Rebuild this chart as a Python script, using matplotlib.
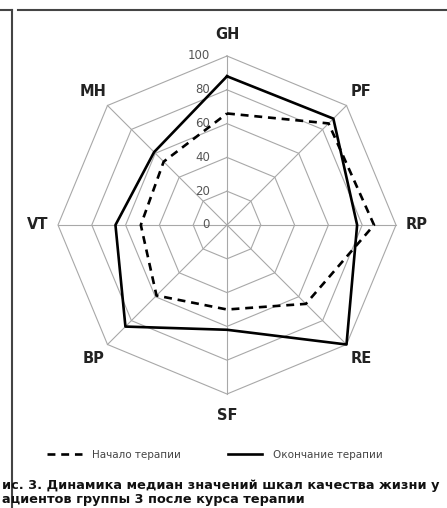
import matplotlib.pyplot as plt
import numpy as np
from matplotlib.lines import Line2D

# SF-36 scales, clockwise from the top
scales = ['GH', 'PF', 'RP', 'RE', 'SF', 'BP', 'VT', 'MH']
start_vals = [66, 85, 87, 66, 50, 59, 51, 53]   # Начало терапии
end_vals = [88, 89, 77, 100, 62, 85, 66, 61]    # Окончание терапии
ring_vals = [0, 20, 40, 60, 80, 100]
legend_names = ['Начало терапии', 'Окончание терапии']
caption = ['ис. 3. Динамика медиан значений шкал качества жизни у',
           'ациентов группы 3 после курса терапии']

W, H = 447, 508
cx, cy = 227, 225          # centre of the chart in pixels (from top)
px = 1.69                  # pixels per value unit

fig = plt.figure(figsize=(W / 100, H / 100), dpi=100, facecolor='white')
ax = fig.add_axes([0, 0, 1, 1])
ax.set_xlim(-cx / px, (W - cx) / px)
ax.set_ylim(-(H - cy) / px, cy / px)
ax.axis('off')

n = len(scales)
ang = np.pi / 2 - np.arange(n) * 2 * np.pi / n


def to_xy(vals):
	v = np.asarray(vals, dtype=float)
	x = v * np.cos(ang)
	y = v * np.sin(ang)
	return np.append(x, x[0]), np.append(y, y[0])


# grid: octagon rings and spokes
grid_c = '#a8a8a8'
for r in ring_vals[1:]:
	gx, gy = to_xy([r] * n)
	ax.plot(gx, gy, color=grid_c, lw=0.8, zorder=1)
for a in ang:
	ax.plot([0, 100 * np.cos(a)], [0, 100 * np.sin(a)], color=grid_c, lw=0.8, zorder=1)

# radial tick labels, just left of the vertical spoke
for r in ring_vals:
	ax.text(-10, r, str(r), ha='right', va='center', fontsize=8.5, color='#555555',
	        family='DejaVu Sans', zorder=2)

# scale names
for name, a in zip(scales, ang):
	rr = 113 if abs(np.cos(a)) < 0.1 else 112
	ax.text(rr * np.cos(a), rr * np.sin(a), name, ha='center', va='center',
	        fontsize=10.5, fontweight='bold', color='#222222')

x1, y1 = to_xy(start_vals)
x2, y2 = to_xy(end_vals)
l1, = ax.plot(x1, y1, color='black', lw=1.9, dashes=(3, 2.2), zorder=3)
l2, = ax.plot(x2, y2, color='black', lw=1.9, zorder=4)

leg = fig.legend([l1, l2], legend_names, ncol=2, frameon=False,
                 loc='center left', bbox_to_anchor=(38 / W, 1 - 455 / H),
                 fontsize=7.5, handlelength=3.3, handletextpad=1.0,
                 columnspacing=4.5)
for t in leg.get_texts():
	t.set_color('#444444')

# caption
fig.text(2 / W, 1 - 485 / H, caption[0], ha='left', va='center', fontsize=9.3,
         fontweight='bold', color='#111111')
fig.text(2 / W, 1 - 500 / H, caption[1], ha='left', va='center', fontsize=9.3,
         fontweight='bold', color='#111111')

# remains of the page frame
frame_c = '#444444'
fig.add_artist(Line2D([12 / W, 12 / W], [1 - 10 / H, 0], color=frame_c, lw=1.5))
fig.add_artist(Line2D([0, 12 / W], [1 - 10 / H, 1 - 10 / H], color=frame_c, lw=1.5))
fig.add_artist(Line2D([18 / W, 1], [1 - 10 / H, 1 - 10 / H], color=frame_c, lw=1.5))

fig.savefig('out.png', dpi=100, facecolor='white')
